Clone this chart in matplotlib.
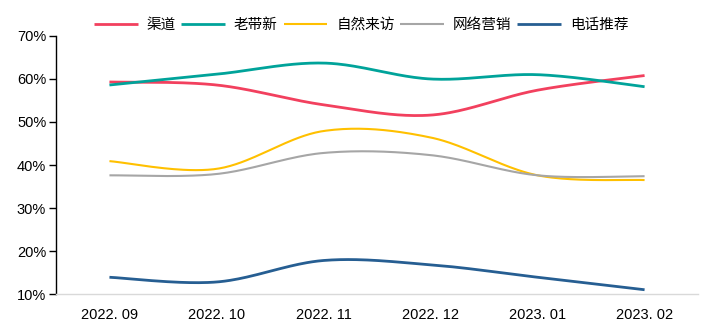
import numpy as np
import matplotlib.pyplot as plt
from matplotlib.ticker import PercentFormatter

plt.rcParams['font.family'] = ['Noto Sans CJK SC', 'DejaVu Sans']

# Monthly share of customers by source (%)
months = ['2022. 09', '2022. 10', '2022. 11', '2022. 12', '2023. 01', '2023. 02']
qudao = [59.3, 58.6, 54.0, 51.6, 57.4, 60.8]
laodaixin = [58.6, 61.1, 63.7, 60.0, 61.0, 58.2]
ziran = [40.9, 39.1, 47.9, 46.4, 37.6, 36.5]
wangluo = [37.6, 37.9, 42.8, 42.3, 37.6, 37.4]
dianhua = [13.9, 12.8, 17.8, 16.8, 13.9, 11.0]

series = [
    ('渠道', qudao, '#F2405E', 2.0),
    ('老带新', laodaixin, '#00A39A', 2.0),
    ('自然来访', ziran, '#FFC000', 1.5),
    ('网络营销', wangluo, '#A6A6A6', 1.5),
    ('电话推荐', dianhua, '#265E92', 2.0),
]


def smooth(x, y, n=40):
    # Catmull-Rom style bezier through the points, like a spreadsheet "smoothed line"
    x = np.asarray(x, float)
    y = np.asarray(y, float)
    px = np.concatenate([[x[0]], x, [x[-1]]])
    py = np.concatenate([[y[0]], y, [y[-1]]])
    xs, ys = [], []
    t = np.linspace(0, 1, n)
    for i in range(1, len(px) - 2):
        p0 = np.array([px[i], py[i]])
        p3 = np.array([px[i + 1], py[i + 1]])
        p1 = p0 + (np.array([px[i + 1], py[i + 1]]) - np.array([px[i - 1], py[i - 1]])) / 6
        p2 = p3 - (np.array([px[i + 2], py[i + 2]]) - np.array([px[i], py[i]])) / 6
        b = ((1 - t) ** 3)[:, None] * p0 + (3 * (1 - t) ** 2 * t)[:, None] * p1 \
            + (3 * (1 - t) * t ** 2)[:, None] * p2 + (t ** 3)[:, None] * p3
        xs.extend(b[:, 0])
        ys.extend(b[:, 1])
    return xs, ys


fig = plt.figure(figsize=(7.08, 3.33), dpi=100)
ax = fig.add_axes([0.079, 0.117, 0.907, 0.775])

x = np.arange(len(months))
for name, vals, color, lw in series:
    sx, sy = smooth(x, vals)
    ax.plot(sx, sy, color=color, lw=lw, label=name, solid_capstyle='butt')

ax.set_xlim(-0.5, len(months) - 0.5)
ax.set_ylim(10, 70)
ax.set_yticks(np.arange(10, 71, 10))
ax.yaxis.set_major_formatter(PercentFormatter(decimals=0))
ax.set_xticks(x)
ax.set_xticklabels(months)
for lab in ax.get_xticklabels() + ax.get_yticklabels():
    lab.set_family('Liberation Sans')

ax.spines['top'].set_visible(False)
ax.spines['right'].set_visible(False)
ax.spines['left'].set_color('black')
ax.spines['left'].set_linewidth(1.0)
ax.spines['bottom'].set_color('#D9D9D9')
ax.spines['bottom'].set_linewidth(1.0)
ax.tick_params(axis='y', direction='out', length=5, width=1, labelsize=10.5, pad=2, colors='black')
ax.tick_params(axis='x', length=0, labelsize=10.5, pad=10)

ax.legend(loc='center', bbox_to_anchor=(0.51, 1 - 25 / 333), bbox_transform=fig.transFigure,
          ncol=5, frameon=False, fontsize=10.5, handlelength=3.0, handletextpad=0.6,
          columnspacing=0.4)

fig.savefig('out.png', dpi=100, facecolor='white')
